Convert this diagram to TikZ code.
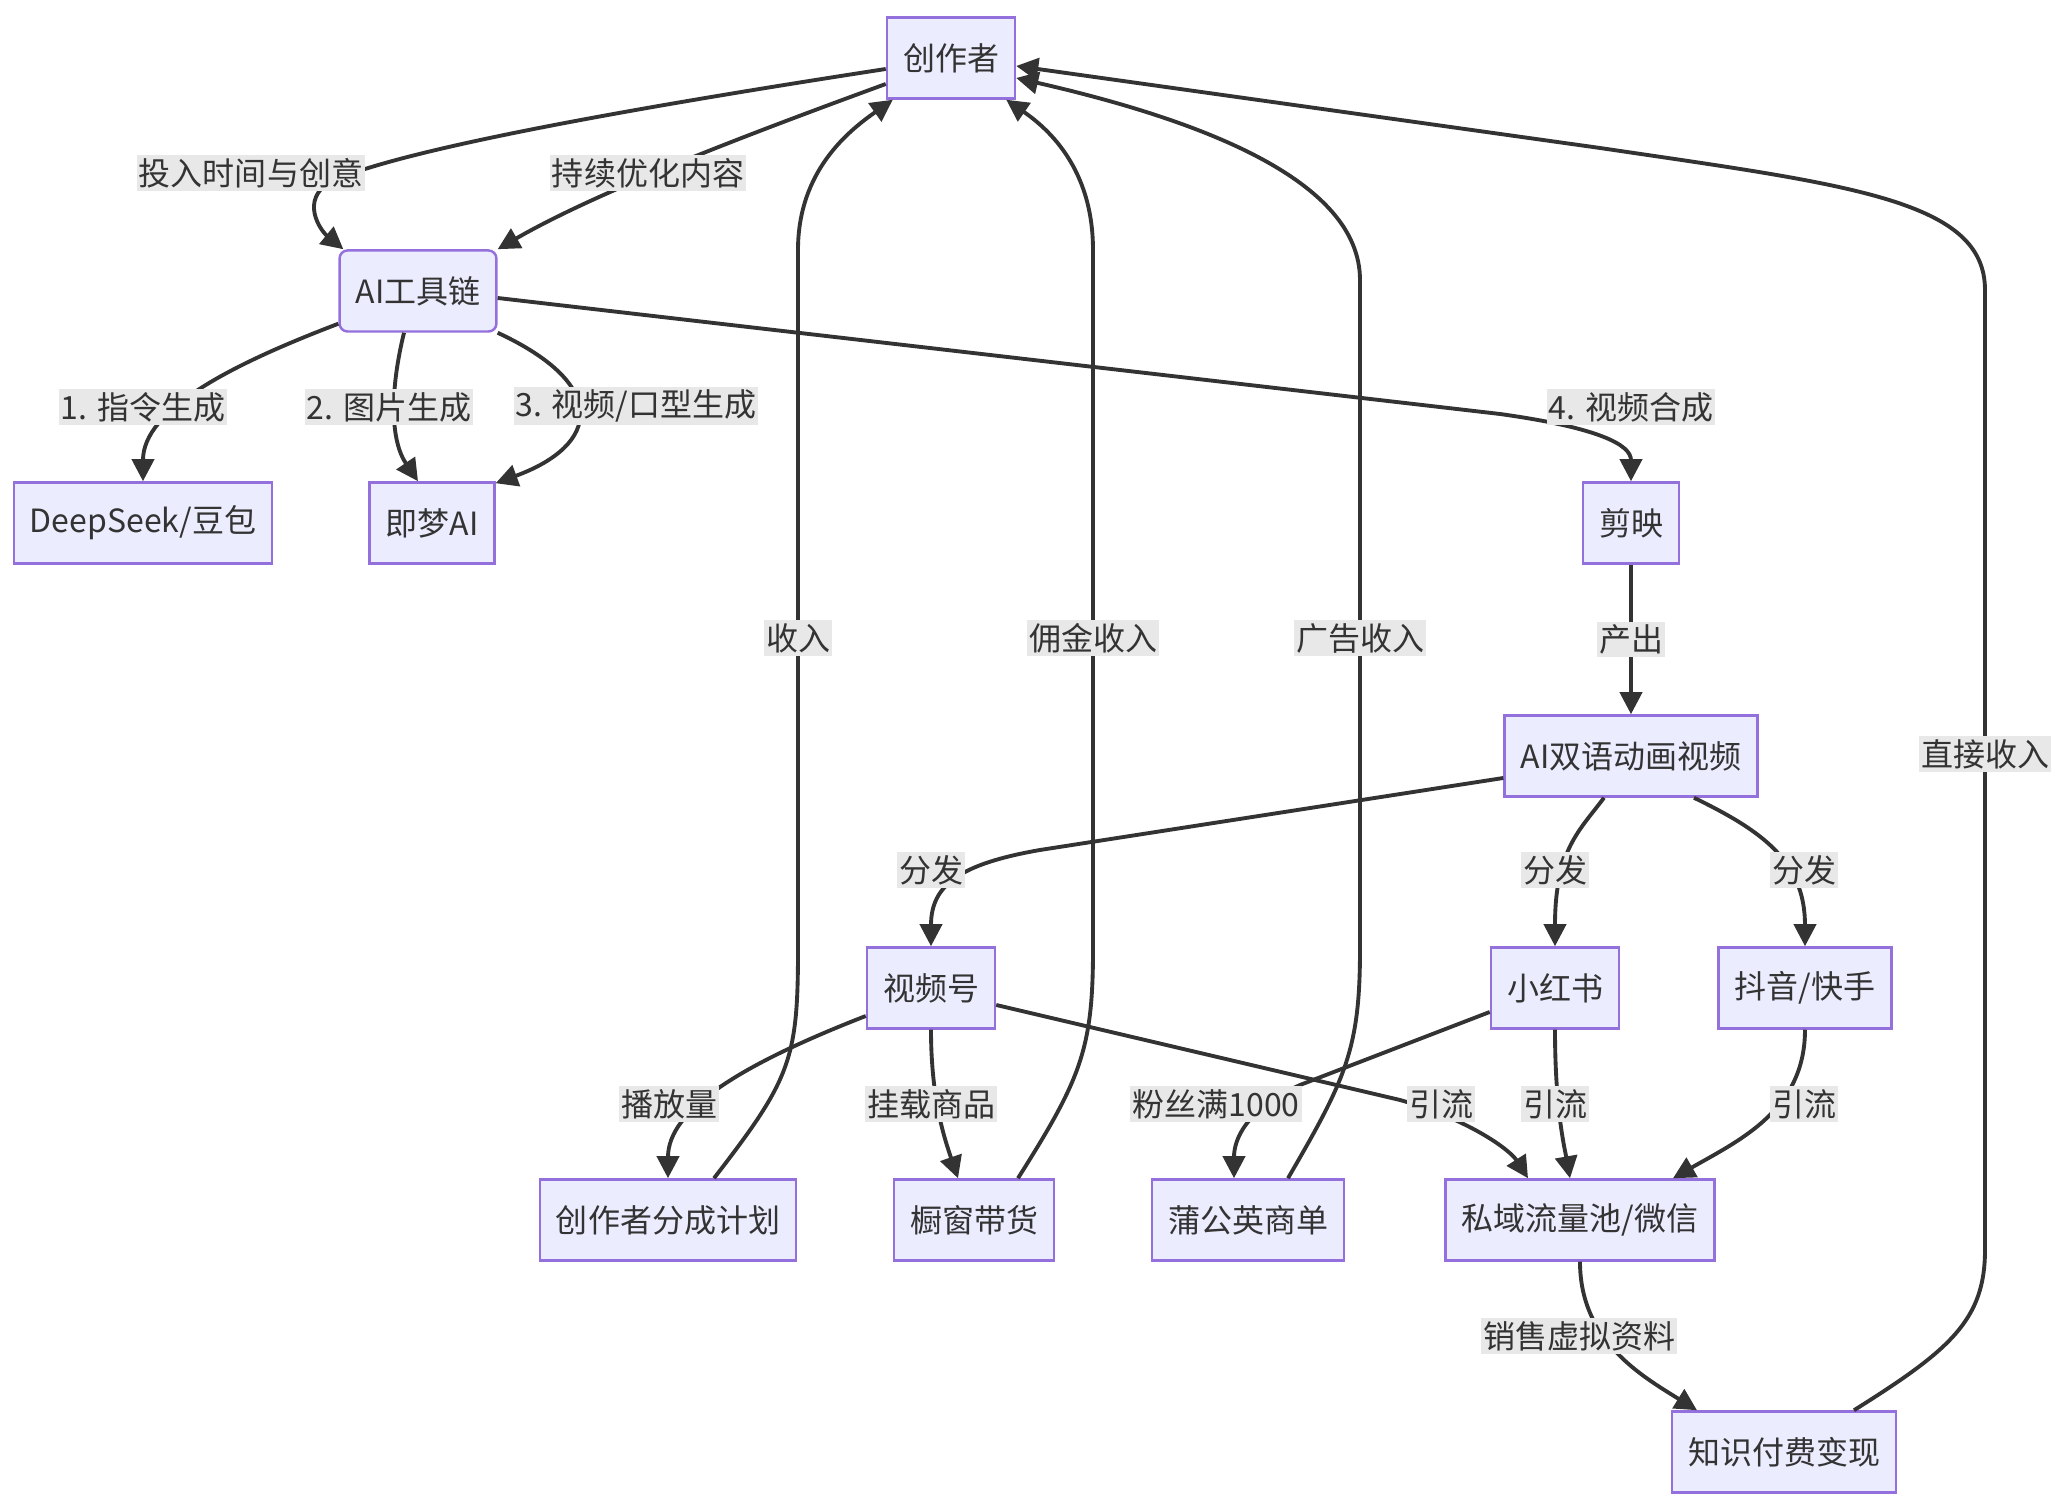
\documentclass[tikz,border=0pt]{standalone}
\usepackage{fontspec}
\setmainfont{Noto Sans CJK SC}
\usepackage{tikz}
\usetikzlibrary{arrows.meta}
\usetikzlibrary{calc}
\definecolor{boxfill}{HTML}{ECECFF}
\definecolor{boxline}{HTML}{9370DB}
\definecolor{edgecol}{HTML}{333333}
\definecolor{lblfill}{HTML}{E8E8E8}

\begin{document}
\begin{tikzpicture}[x=0.01cm, y=-0.01cm, font=\fontsize{9.1}{10}\selectfont,
    box/.style={draw=boxline, fill=boxfill, line width=0.7pt, text=edgecol,
        minimum height=0.81cm, inner xsep=0.16cm},
    lbl/.style={fill=lblfill, text=edgecol, inner xsep=0.02cm, inner ysep=0.03cm},
    arr/.style={draw=edgecol, line width=1.1pt, -{Triangle[length=0.22cm,width=0.22cm]}}]

    \useasboundingbox (0,0) rectangle (2068,1510);

    \node[box] (cz) at (951,58) {创作者};
    \node[box, rounded corners=0.08cm] (ai) at (418,291) {AI工具链};
    \node[box] (ds) at (143,523) {DeepSeek/豆包};
    \node[box] (jm) at (432,523) {即梦AI};
    \node[box] (jy) at (1631,523) {剪映};
    \node[box] (sp) at (1631,756) {AI双语动画视频};
    \node[box] (sph) at (931,988) {视频号};
    \node[box] (xhs) at (1555,988) {小红书};
    \node[box] (dy) at (1805,988) {抖音/快手};
    \node[box] (fc) at (668,1220) {创作者分成计划};
    \node[box] (cc) at (974,1220) {橱窗带货};
    \node[box] (pgy) at (1248,1220) {蒲公英商单};
    \node[box] (sy) at (1580,1220) {私域流量池/微信};
    \node[box] (zs) at (1784,1452) {知识付费变现};

    \draw[arr] ($(cz.west)+(0,11)$) .. controls (620,110) and (400,150) .. (330,182)
        .. controls (300,200) and (320,230) .. ($(ai.north west)+(5,0)$)
        node[lbl] at (251,173) {投入时间与创意};
    \draw[arr] ($(cz.west)+(0,26)$) .. controls (760,130) and (600,190) .. (ai.north east)
        node[lbl] at (648,173) {持续优化内容};

    \draw[arr] ($(ai.south west)+(0,-9)$) .. controls (230,365) and (143,410) .. (ds.north)
        node[lbl] at (143,407) {1. 指令生成};
    \draw[arr] ($(ai.south)+(-14,0)$) .. controls (390,390) and (390,440) .. ($(jm.north)+(-14,0)$)
        node[lbl] at (389,407) {2. 图片生成};
    \draw[arr] (ai.south east) .. controls (610,385) and (600,445) .. ($(jm.north east)+(0,2)$)
        node[lbl] at (636,406) {3. 视频/口型生成};
    \draw[arr] ($(ai.east)+(0,7)$) -- (1500,414) .. controls (1600,428) and (1631,445) .. (jy.north)
        node[lbl] at (1631,407) {4. 视频合成};

    \draw[arr] (jy) -- (sp) node[lbl, midway] {产出};

    \draw[arr] ($(sp.west)+(0,22)$) -- (1040,850) .. controls (960,864) and (931,885) .. (sph.north)
        node[lbl] at (931,870) {分发};
    \draw[arr] ($(sp.south)+(-27,0)$) .. controls (1580,830) and (1555,850) .. (xhs.north)
        node[lbl] at (1555,870) {分发};
    \draw[arr] ($(sp.south)+(63,0)$) .. controls (1760,830) and (1805,860) .. (dy.north)
        node[lbl] at (1804,870) {分发};

    \draw[arr] ($(sph.west)+(0,28)$) .. controls (740,1065) and (668,1110) .. (fc.north)
        node[lbl] at (669,1104) {播放量};
    \draw[arr] (sph.south) .. controls (931,1100) and (945,1140) .. ($(cc.north)+(-16,0)$)
        node[lbl] at (931,1104) {挂载商品};
    \draw[arr] ($(sph.east)+(0,17)$) -- (1400,1100) .. controls (1470,1120) and (1510,1150) .. ($(sy.north)+(-52,0)$)
        node[lbl] at (1441,1104) {引流};
    \draw[arr] ($(xhs.west)+(0,24)$) -- (1300,1085) .. controls (1245,1110) and (1234,1140) .. ($(pgy.north)+(-14,0)$)
        node[lbl] at (1216,1104) {粉丝满1000};
    \draw[arr] (xhs.south) .. controls (1555,1110) and (1565,1150) .. ($(sy.north)+(-10,0)$)
        node[lbl] at (1555,1104) {引流};
    \draw[arr] (dy.south) .. controls (1805,1110) and (1740,1140) .. ($(sy.north)+(93,0)$)
        node[lbl] at (1804,1104) {引流};

    \draw[arr] (sy.south) .. controls (1580,1340) and (1640,1375) .. ($(zs.north)+(-87,0)$)
        node[lbl] at (1579,1336) {销售虚拟资料};

    \draw[arr] ($(fc.north)+(46,0)$) .. controls (790,1080) and (798,1060) .. (798,950) -- (798,250)
        .. controls (798,170) and (850,130) .. ($(cz.south west)+(7,0)$)
        node[lbl] at (798,638) {收入};
    \draw[arr] ($(cc.north)+(44,0)$) .. controls (1080,1080) and (1093,1050) .. (1093,950) -- (1093,250)
        .. controls (1093,170) and (1050,130) .. ($(cz.south east)+(-10,0)$)
        node[lbl] at (1093,638) {佣金收入};
    \draw[arr] ($(pgy.north)+(40,0)$) .. controls (1345,1080) and (1360,1050) .. (1360,950) -- (1360,280)
        .. controls (1360,180) and (1200,120) .. ($(cz.east)+(0,20)$)
        node[lbl] at (1360,638) {广告收入};
    \draw[arr] ($(zs.north)+(70,0)$) .. controls (1950,1350) and (1985,1320) .. (1985,1250) -- (1985,290)
        .. controls (1985,200) and (1850,185) .. (1600,148) -- ($(cz.east)+(0,8)$)
        node[lbl] at (1985,754) {直接收入};
\end{tikzpicture}
\end{document}
